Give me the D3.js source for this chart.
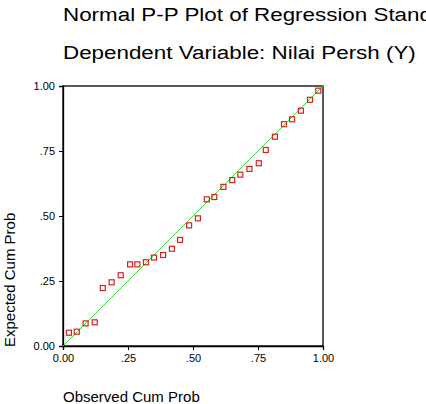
<!DOCTYPE html>
<html>
<head>
<meta charset="utf-8">
<script src="https://cdn.jsdelivr.net/npm/d3@7"></script>
<style>
    body { margin: 0; background: #fff; }
    svg { display: block; font-family: "Liberation Sans", Arial, sans-serif; }
</style>
</head>
<body>
<div id="chart"></div>
<script>
// Normal P-P plot of regression standardized residual

const titleLines = ['Normal P-P Plot of Regression Standardized Residual', 'Dependent Variable: Nilai Persh (Y)'];
const xLabel = 'Observed Cum Prob';
const yLabel = 'Expected Cum Prob';

const tickValues = [0, 0.25, 0.5, 0.75, 1];
const tickLabels = ['0.00', '.25', '.50', '.75', '1.00'];

const observed = [0.023, 0.053, 0.087, 0.122, 0.153, 0.187, 0.222, 0.258, 0.286, 0.319,
    0.35, 0.385, 0.419, 0.45, 0.485, 0.519, 0.553, 0.582, 0.617, 0.651,
    0.682, 0.717, 0.753, 0.78, 0.815, 0.85, 0.881, 0.915, 0.95, 0.982];
const expected = [0.051, 0.055, 0.087, 0.091, 0.223, 0.245, 0.272, 0.314, 0.314, 0.322,
    0.34, 0.35, 0.374, 0.408, 0.464, 0.491, 0.564, 0.573, 0.612, 0.638,
    0.659, 0.681, 0.703, 0.754, 0.805, 0.853, 0.872, 0.905, 0.947, 0.982];

function createChart() {
    const container = d3.select('#chart');
    container.html('');

    const W = 426, H = 404;
    const margin = { top: 86, right: 103, bottom: 58, left: 63 };
    const width = W - margin.left - margin.right;
    const height = H - margin.top - margin.bottom;

    const root = container.append('svg')
        .attr('width', W)
        .attr('height', H);

    // Titles - the source font runs wider, so stretch to match line 2
    const titles = root.append('g');
    const tt = titles.selectAll('.title')
        .data(titleLines)
        .enter()
        .append('text')
        .attr('class', 'title')
        .attr('x', 0)
        .attr('y', (d, i) => 21 + i * 38)
        .attr('font-size', '19px')
        .attr('fill', '#000')
        .text(d => d);
    const len2 = tt.nodes()[1].getComputedTextLength();
    const sx = 353 / len2;
    titles.attr('transform', `translate(63,0) scale(${sx},1)`);

    const svg = root.append('g')
        .attr('transform', `translate(${margin.left},${margin.top})`);

    // Scales
    const x = d3.scaleLinear().domain([0, 1]).range([0, width]);
    const y = d3.scaleLinear().domain([0, 1]).range([height, 0]);

    // Frame
    svg.append('rect')
        .attr('x', 0)
        .attr('y', 0)
        .attr('width', width)
        .attr('height', height)
        .attr('fill', 'none')
        .attr('stroke', '#000')
        .attr('stroke-width', 1.3);

    // Axes
    const xAxis = svg.append('g')
        .attr('transform', `translate(0,${height})`)
        .call(d3.axisBottom(x)
            .tickValues(tickValues)
            .tickSize(4)
            .tickPadding(4)
            .tickFormat((d, i) => tickLabels[i]));

    const yAxis = svg.append('g')
        .call(d3.axisLeft(y)
            .tickValues(tickValues)
            .tickSize(4)
            .tickPadding(4)
            .tickFormat((d, i) => tickLabels[i]));

    [xAxis, yAxis].forEach(ax => {
        ax.select('.domain').attr('stroke', '#000').attr('stroke-width', 1.3);
        ax.selectAll('.tick line').attr('stroke', '#000');
        ax.selectAll('.tick text')
            .attr('fill', '#000')
            .attr('font-size', '11px')
            .attr('font-family', '"Liberation Sans", Arial, sans-serif');
    });

    // Reference line
    svg.append('line')
        .attr('x1', x(0))
        .attr('y1', y(0))
        .attr('x2', x(1))
        .attr('y2', y(1))
        .attr('stroke', '#33dd33')
        .attr('stroke-width', 1);

    // Points
    const data = observed.map((o, i) => ({ o: o, e: expected[i] }));
    const s = 5;
    svg.selectAll('.pt')
        .data(data)
        .enter()
        .append('rect')
        .attr('class', 'pt')
        .attr('x', d => x(d.o) - s / 2)
        .attr('y', d => y(d.e) - s / 2)
        .attr('width', s)
        .attr('height', s)
        .attr('fill', 'none')
        .attr('stroke', '#d82020')
        .attr('stroke-width', 1.2);

    // Axis labels
    root.append('text')
        .attr('x', 63)
        .attr('y', 402)
        .attr('font-size', '15px')
        .attr('fill', '#000')
        .text(xLabel);

    root.append('text')
        .attr('transform', 'rotate(-90)')
        .attr('x', -347)
        .attr('y', 15)
        .attr('font-size', '15px')
        .attr('fill', '#000')
        .text(yLabel);
}

createChart();
</script>
</body>
</html>
